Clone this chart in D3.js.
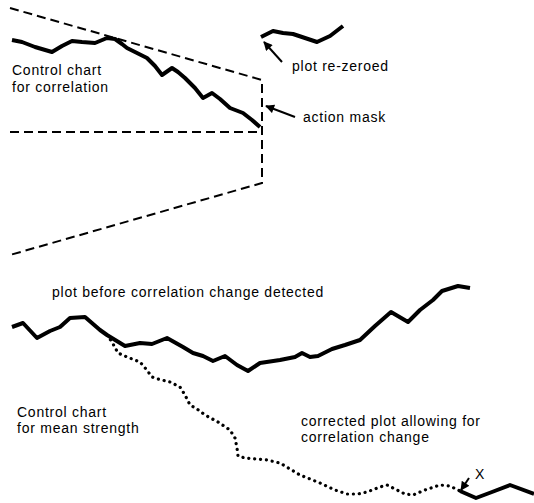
<!DOCTYPE html>
<html>
<head>
<meta charset="utf-8">
<script src="https://cdn.jsdelivr.net/npm/d3@7"></script>
<style>
  html, body { margin: 0; padding: 0; background: #fff; }
  svg { display: block; }
  text { font-family: "Liberation Sans", Arial, sans-serif; font-size: 14px; letter-spacing: 0.75px; fill: #000; }
</style>
</head>
<body>
<svg id="chart" width="534" height="503"></svg>
<script>
// ---------- DATA ----------
// Upper panel: cusum for correlation (sample number t, cusum value)
const corrT     = [0.4, 2.4, 5, 8.4, 10.4, 12.4, 14.4, 17, 19.4, 21, 22.4, 23.4, 25.4, 27.4, 29, 30.4, 32.4, 33.6, 35, 37, 38.6, 40.4, 42, 44, 46.6, 48.4, 50];
const corrCusum = [9.2, 9.0, 8.5, 8.0, 8.6, 9.1, 9.0, 8.9, 9.4, 9.3, 8.8, 8.4, 7.9, 7.4, 6.6, 5.7, 6.4, 6.0, 5.4, 4.4, 3.4, 3.9, 3.3, 2.4, 1.9, 1.2, 0.5];
// Plot re-zeroed after signal
const rezeroT     = [50.2, 52.6, 54.6, 56.6, 59, 61.4, 64, 66.6];
const rezeroCusum = [9.5, 10.1, 9.9, 9.8, 9.4, 9.0, 9.6, 10.6];
// V-mask (action mask) outline
const maskT     = [0, 50.4, 50.4, 0];
const maskValue = [12.4, 5.2, -5.1, -12.3];
const maskAxisT = [0, 50.4];
const maskAxisV = [0, 0];

// Lower panel: cusum for mean strength
const meanT     = [0.4, 2.6, 5.4, 8, 10, 12, 15, 18, 19.4, 23, 26, 28.4, 31.4, 34.6, 36.6, 38.6, 40.6, 43, 45.4, 47.6, 50, 54, 57, 58.4, 60, 61.6, 64.4, 67, 70, 73, 76.2, 79.6, 82, 84.6, 86.4, 89.6, 92];
const meanCusum = [0.3, 0.7, -0.8, -0.1, 0.3, 1.2, 1.3, 0, -0.5, -1.6, -1.3, -1.4, -0.8, -1.7, -2.3, -2.6, -3.1, -2.6, -3.5, -4.1, -3.3, -3.0, -2.7, -2.3, -2.7, -2.6, -1.9, -1.5, -1.0, 0.4, 1.8, 0.8, 2.0, 3.0, 3.9, 4.4, 4.2];
// Corrected plot allowing for correlation change
const corrected_T     = [19.4, 20.4, 21.6, 23.4, 26, 27.2, 28.4, 29.6, 32, 34, 35, 36, 37.4, 39, 41.6, 44, 45, 45.4, 45.6, 47, 51.4, 54, 58, 62, 65, 67.4, 69.6, 71.4, 74, 75.4, 77, 79, 80.6, 83, 86, 88, 90];
const correctedCusum  = [-0.5, -1.2, -2.3, -2.7, -3.2, -3.9, -4.7, -4.9, -5.2, -5.7, -6.5, -7.5, -7.9, -8.5, -9.2, -10.0, -10.8, -11.8, -12.6, -12.8, -13.0, -13.3, -14.5, -15.3, -16.0, -16.4, -16.4, -16.2, -15.7, -15.5, -15.9, -16.4, -16.5, -16.0, -15.5, -15.6, -16.1];
// Re-zeroed after point X
const afterXT     = [90, 93.2, 96.4, 100, 104.8];
const afterXCusum = [-16.1, -16.8, -16.2, -15.5, -16.4];

// Annotation labels
const topLabels    = ["Control chart", "for correlation", "plot re-zeroed", "action mask"];
const topLabelT    = [0.4, 0.4, 56.4, 58.6];
const topLabelV    = [5.7, 4.0, 6.1, 1.0];
const bottomLabels = ["plot before correlation change detected", "Control chart", "for mean strength", "corrected plot allowing for", "correlation change", "X"];
const bottomLabelT = [8.4, 1.4, 1.4, 58.2, 58.2, 93];
const bottomLabelV = [3.3, -8.7, -10.3, -9.6, -11.2, -14.9];
// Arrows: [fromT, fromV, toT, toV]
const topArrows    = [[54.4, 7.0, 50.8, 9.0], [57, 1.5, 51.2, 2.6]];
const bottomArrows = [[91.8, -14.8, 90.2, -16.0]];

// ---------- SCALES ----------
const x = d3.scaleLinear().domain([0, 105]).range([10, 535]);
const yTop = d3.scaleLinear().domain([0, 10]).range([132, 32]);
const yBot = d3.scaleLinear().domain([0, 10]).range([330, 230]);

const svg = d3.select("#chart");
const defs = svg.append("defs");
defs.append("marker")
  .attr("id", "ah").attr("viewBox", "0 0 10 10")
  .attr("refX", 9).attr("refY", 5)
  .attr("markerWidth", 10).attr("markerHeight", 9)
  .attr("markerUnits", "userSpaceOnUse")
  .attr("orient", "auto")
  .append("path").attr("d", "M0,0 L10,5 L0,10 Z").attr("fill", "#000");

const zip = (a, b) => a.map((d, i) => [d, b[i]]);
const lineTop = d3.line().x(d => x(d[0])).y(d => yTop(d[1]));
const lineBot = d3.line().x(d => x(d[0])).y(d => yBot(d[1]));

// Upper panel
svg.append("path").datum(zip(maskT, maskValue)).attr("d", lineTop)
  .attr("fill", "none").attr("stroke", "#000").attr("stroke-width", 2).attr("stroke-dasharray", "9,5");
svg.append("path").datum(zip(maskAxisT, maskAxisV)).attr("d", lineTop)
  .attr("fill", "none").attr("stroke", "#000").attr("stroke-width", 2).attr("stroke-dasharray", "9,5");
svg.append("path").datum(zip(corrT, corrCusum)).attr("d", lineTop)
  .attr("fill", "none").attr("stroke", "#000").attr("stroke-width", 4).attr("stroke-linejoin", "round");
svg.append("path").datum(zip(rezeroT, rezeroCusum)).attr("d", lineTop)
  .attr("fill", "none").attr("stroke", "#000").attr("stroke-width", 4).attr("stroke-linejoin", "round");

// Lower panel
svg.append("path").datum(zip(meanT, meanCusum)).attr("d", lineBot)
  .attr("fill", "none").attr("stroke", "#000").attr("stroke-width", 4).attr("stroke-linejoin", "round");
svg.append("path").datum(zip(corrected_T, correctedCusum)).attr("d", lineBot)
  .attr("fill", "none").attr("stroke", "#000").attr("stroke-width", 3.2).attr("stroke-linecap", "round")
  .attr("stroke-dasharray", "0.1,5.8");
svg.append("path").datum(zip(afterXT, afterXCusum)).attr("d", lineBot)
  .attr("fill", "none").attr("stroke", "#000").attr("stroke-width", 4).attr("stroke-linejoin", "round");

// Labels
svg.selectAll("text.top").data(topLabels).join("text").attr("class", "top")
  .attr("x", (d, i) => x(topLabelT[i])).attr("y", (d, i) => yTop(topLabelV[i])).text(d => d);
svg.selectAll("text.bot").data(bottomLabels).join("text").attr("class", "bot")
  .attr("x", (d, i) => x(bottomLabelT[i])).attr("y", (d, i) => yBot(bottomLabelV[i])).text(d => d);

// Arrows
svg.selectAll("line.at").data(topArrows).join("line").attr("class", "at")
  .attr("x1", d => x(d[0])).attr("y1", d => yTop(d[1]))
  .attr("x2", d => x(d[2])).attr("y2", d => yTop(d[3]))
  .attr("stroke", "#000").attr("stroke-width", 2).attr("marker-end", "url(#ah)");
svg.selectAll("line.ab").data(bottomArrows).join("line").attr("class", "ab")
  .attr("x1", d => x(d[0])).attr("y1", d => yBot(d[1]))
  .attr("x2", d => x(d[2])).attr("y2", d => yBot(d[3]))
  .attr("stroke", "#000").attr("stroke-width", 2).attr("marker-end", "url(#ah)");
</script>
</body>
</html>
